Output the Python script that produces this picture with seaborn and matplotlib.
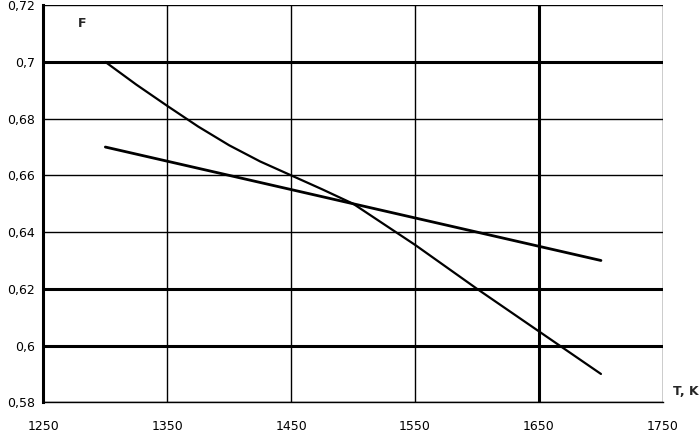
import numpy as np
import pandas as pd
import matplotlib
matplotlib.use("Agg")
import matplotlib.pyplot as plt
import seaborn as sns

temp_curve = [1300, 1325, 1350, 1375, 1400, 1425, 1450, 1475, 1500,
              1550, 1600, 1650, 1700]
f_curve = [0.700, 0.6920, 0.6845, 0.6772, 0.6706, 0.6649, 0.6600, 0.6551,
           0.6500, 0.6355, 0.6200, 0.6050, 0.5900]

temp_line = [1300, 1400, 1500, 1600, 1700]
f_line = [0.670, 0.660, 0.650, 0.640, 0.630]

x_ticks = [1250, 1350, 1450, 1550, 1650, 1750]
y_ticks = [0.58, 0.60, 0.62, 0.64, 0.66, 0.68, 0.70, 0.72]
y_labels = ["0,58", "0,6", "0,62", "0,64", "0,66", "0,68", "0,7", "0,72"]

# gridlines drawn heavier in the original
thick_y = [0.60, 0.62, 0.70]
thick_x = [1650]

df = pd.concat([
    pd.DataFrame({"T": temp_curve, "F": f_curve, "series": "curve"}),
    pd.DataFrame({"T": temp_line, "F": f_line, "series": "line"}),
])

sns.set_style("white")
plt.rcParams["font.family"] = ["DejaVu Sans"]

fig, ax = plt.subplots(figsize=(7, 4.34), dpi=100)
fig.subplots_adjust(left=0.062, right=0.947, top=0.988, bottom=0.073)

# grid
for y in y_ticks:
    ax.axhline(y, color="black", lw=2.2 if y in thick_y else 1.0, zorder=1)
for x in x_ticks[1:]:
    ax.axvline(x, color="black", lw=2.2 if x in thick_x else 1.0, zorder=1)

sns.lineplot(data=df[df.series == "curve"], x="T", y="F", color="black",
             lw=1.6, ax=ax, zorder=3)
sns.lineplot(data=df[df.series == "line"], x="T", y="F", color="black",
             lw=2.0, ax=ax, zorder=3)

ax.set_xlim(1250, 1750)
ax.set_ylim(0.58, 0.72)
ax.set_xticks(x_ticks)
ax.set_xticklabels([str(t) for t in x_ticks])
ax.set_yticks(y_ticks)
ax.set_yticklabels(y_labels)
ax.set_xlabel("")
ax.set_ylabel("")

for side in ["top", "right"]:
    ax.spines[side].set_visible(False)
ax.spines["left"].set_linewidth(2.2)
ax.spines["bottom"].set_linewidth(1.0)
ax.spines["left"].set_color("black")
ax.spines["bottom"].set_color("black")

ax.tick_params(axis="both", direction="out", length=4, width=1,
               color="black", labelsize=9, labelcolor="black")
ax.tick_params(axis="x", pad=9)
ax.tick_params(axis="y", pad=2)

ax.text(0.055, 0.955, "F", transform=ax.transAxes, fontsize=9,
        fontweight="bold", ha="left", va="center")
fig.text(0.98, 0.097, "T, K", fontsize=9, fontweight="bold",
         ha="center", va="center")

fig.savefig("out.png", dpi=100)
